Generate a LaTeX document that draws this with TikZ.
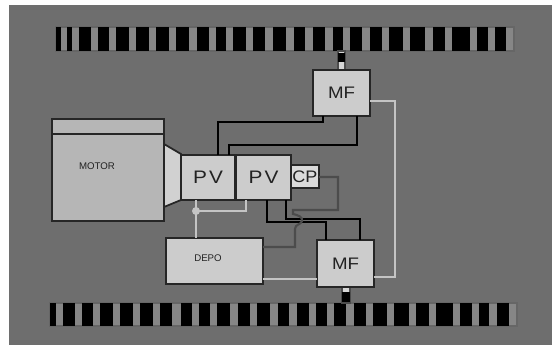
\documentclass[tikz,border=0pt]{standalone}
\usepackage{graphicx}
\usepackage{fontspec}
\setmainfont{Liberation Sans}
\definecolor{bgray}{HTML}{6E6E6E}
\definecolor{stripe}{HTML}{868686}
\definecolor{boxfill}{HTML}{CCCCCC}
\definecolor{motorfill}{HTML}{B6B6B6}
\definecolor{cpfill}{HTML}{DADADA}
\definecolor{wirelight}{HTML}{C4C4C4}
\definecolor{wiredark}{HTML}{4C4C4C}
\definecolor{inkgray}{HTML}{222222}
\newcommand{\widetag}[2]{\scalebox{#1}[1]{#2}}
\begin{document}
\begin{tikzpicture}[x=0.02cm,y=-0.02cm,line join=miter,
    box/.style={draw=black!85,line width=1pt,fill=boxfill,inner sep=0pt,outer sep=0pt,text=inkgray},
    tag/.style={font=\fontsize{5.5}{6}\selectfont,text=inkgray,inner sep=0pt},
    pvfont/.style={font=\fontsize{10.3}{12}\selectfont},
    mffont/.style={font=\fontsize{9.5}{12}\selectfont},
    blackwire/.style={draw=black,line width=1.1pt},
    lightwire/.style={draw=wirelight,line width=1.2pt},
    darkwire/.style={draw=wiredark,line width=1.2pt}]
    \def\px{0.02cm}
    \useasboundingbox (0,0) rectangle (552,345);
    \fill[white] (0,0) rectangle (552,345);
    \fill[bgray] (9,5) rectangle (552,345);
    % top bar
    \draw[fill=stripe,draw=black!60,line width=0.6pt] (56,27) rectangle (514,51);
    \foreach \a/\b in {56/61,67/72,79/91,98/109,116/129,136/149,156/169,176/189,197/209,216/226,233/246,253/265,273/286,294/305,313/325,333/343,350/362,370/382,389/403,410/425,433/445,452/470,477/488,495/506}
        \fill[black] (\a,27) rectangle (\b,51);
    % bottom bar
    \draw[fill=stripe,draw=black!60,line width=0.6pt] (50,303) rectangle (517,326);
    \foreach \a/\b in {50/56,63/75,82/93,100/113,120/133,140/153,160/172,181/192,199/210,217/230,238/250,257/270,278/289,297/309,316/327,334/346,354/366,373/387,394/409,416/429,436/453,460/472,479/489,497/509}
        \fill[black] (\a,303) rectangle (\b,326);
    % shafts
    \draw[fill=boxfill!80,draw=black!70,line width=0.6pt] (338,51) rectangle (345,70);
    \fill[black] (338,53) rectangle (345,62);
    \draw[fill=boxfill!80,draw=black!70,line width=0.6pt] (342,287) rectangle (350,303);
    \fill[black] (342,292) rectangle (350,302);
    % motor
    \draw[box,fill=boxfill!90] (164,144)--(181,154)--(181,200)--(164,207)--cycle;
    \node[box,fill=motorfill,minimum width=112*\px,minimum height=102*\px] (motor) at (108,170) {};
    \draw[draw=black!85,line width=1pt] (motor.west |- 0,134)--(motor.east |- 0,134);
    \node[tag] (motortag) at (97,166) {MOTOR};
    % boxes
    \node[box,pvfont,minimum width=53*\px,minimum height=45*\px] (pvA) at (208,177.5) {\widetag{1.15}{P\kern1pt V}};
    \node[box,pvfont,minimum width=55*\px,minimum height=45*\px] (pvB) at (263.5,177.5) {\widetag{1.15}{P\kern1pt V}};
    \node[box,mffont,fill=cpfill,minimum width=28*\px,minimum height=23*\px] (cp) at (305,176.5) {\widetag{1.08}{CP}};
    \node[box,mffont,minimum width=57*\px,minimum height=46*\px] (mfTop) at (341.5,93) {\widetag{1.12}{MF}};
    \node[box,mffont,minimum width=57*\px,minimum height=47*\px] (mfBot) at (345.5,263.5) {\widetag{1.12}{MF}};
    \node[box,minimum width=97*\px,minimum height=46*\px] (depo) at (214.5,261) {};
    \node[tag] (depotag) at (208,258) {DEPO};
    % bends
    \coordinate (a1) at (218,122); \coordinate (a2) at (323,122);
    \coordinate (b1) at (229,145); \coordinate (b2) at (357,145);
    \coordinate (c1) at (395,101); \coordinate (c2) at (395,277);
    \coordinate (d1) at (267,222); \coordinate (d2) at (326,222);
    \coordinate (e1) at (286,219); \coordinate (e2) at (360,219);
    \coordinate (f1) at (196,211); \coordinate (f2) at (246,211);
    \coordinate (g1) at (338,177); \coordinate (g2) at (338,210); \coordinate (g3) at (293,210);
    \coordinate (g4) at (295,247);
    \coordinate (h1) at (263,279);
    % black wires
    \draw[blackwire] (pvA.north -| a1)--(a1)--(a2)--(mfTop.south -| a2);
    \draw[blackwire] (pvA.north -| b1)--(b1)--(b2)--(mfTop.south -| b2);
    \draw[blackwire] (pvB.south -| d1)--(d1)--(d2)--(mfBot.north -| d2);
    \draw[blackwire] (pvB.south -| e1)--(e1)--(e2)--(mfBot.north -| e2);
    % light wires
    \draw[lightwire] (mfTop.east |- c1)--(c1)--(c2)--(mfBot.east |- c2);
    \draw[lightwire] (depo.east |- h1)--(mfBot.west |- h1);
    \draw[lightwire,line width=1.5pt] (pvA.south -| f1)--(depo.north -| f1);
    \draw[lightwire,line width=1.3pt] (pvB.south -| f2)--(f2)--(f1);
    \fill[wirelight] (f1) circle (4);
    % dark wire
    \draw[darkwire] (cp.east |- g1)--(g1)--(g2)--(g3)--(293,214)
        .. controls (298,215) and (303,217) .. (302,221)
        .. controls (301,225) and (295,224) .. (295,229)--(g4)--(depo.east |- g4);
\end{tikzpicture}
\end{document}
